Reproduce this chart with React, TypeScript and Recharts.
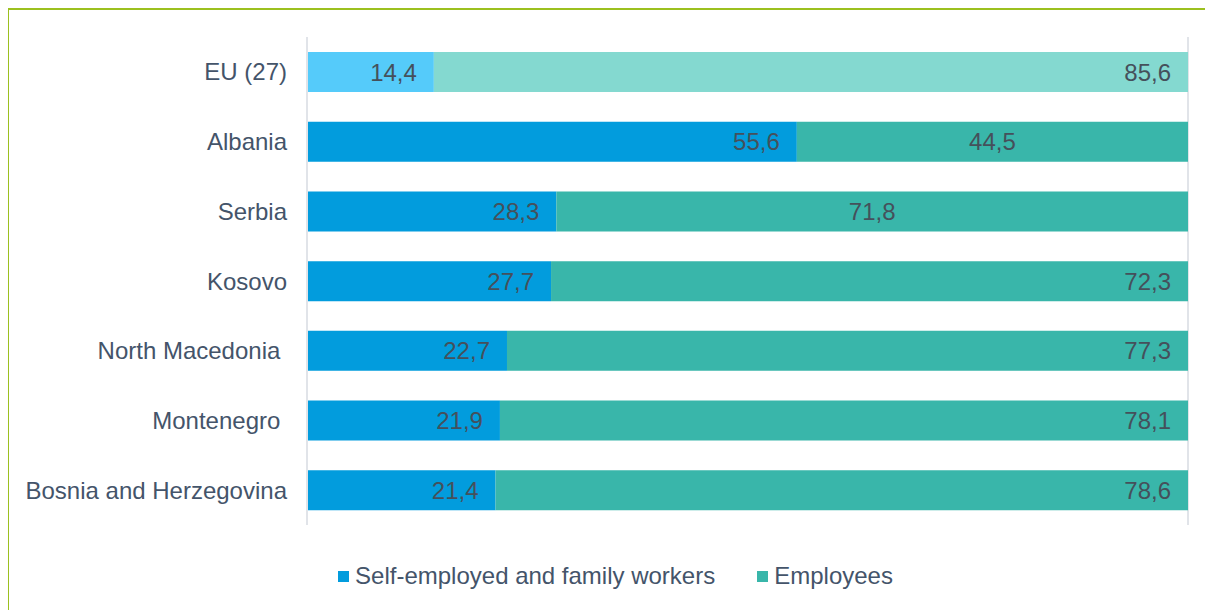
import React from "react"
import { Bar, BarChart, CartesianGrid, Cell, LabelList, Legend, XAxis, YAxis } from "recharts"

const countries = [
  "EU (27)",
  "Albania",
  "Serbia",
  "Kosovo",
  "North Macedonia\u00a0",
  "Montenegro\u00a0",
  "Bosnia and Herzegovina",
]
const selfEmployed = [14.4, 55.6, 28.3, 27.7, 22.7, 21.9, 21.4]
const employees = [85.6, 44.5, 71.8, 72.3, 77.3, 78.1, 78.6]
const seriesNames = ["Self-employed and family workers", "Employees"]
const xTicks = [0, 10, 20, 30, 40, 50, 60, 70, 80, 90, 100]

const data = countries.map((name, i) => ({
  name,
  self: selfEmployed[i],
  emp: employees[i],
}))

const FONT = '"Liberation Sans", Arial, sans-serif'
const TEXT = "#44546A"
const LABEL = "#45505B"
const BLUE = "#029CDD"
const TEAL = "#39B6AA"
const BLUE_EU = "#55CBFA"
const TEAL_EU = "#84D9D0"

// employee labels drawn centred instead of at the bar end
const centredEmp = ["Albania", "Serbia"]

const fmt = (v: number) => v.toFixed(1).replace(".", ",")

const makeLabel = (series: "self" | "emp") => (props: any) => {
  const vb = props.viewBox || props
  const { x, y, width, height } = vb
  const idx = props.index
  const centred = series === "emp" && centredEmp.includes(countries[idx])
  const tx = centred ? x + width / 2 : x + width - 17
  return (
    <text
      x={tx}
      y={y + height / 2}
      textAnchor={centred ? "middle" : "end"}
      dominantBaseline="central"
      fill={LABEL}
      fontSize={24}
      fontFamily={FONT}
    >
      {fmt(Number(props.value))}
    </text>
  )
}

const LegendContent = (props: any) => {
  const items = [...(props.payload || [])].sort(
    (a: any, b: any) => seriesNames.indexOf(a.value) - seriesNames.indexOf(b.value)
  )
  return (
    <div
      style={{
        height: 40,
        display: "flex",
        justifyContent: "center",
        alignItems: "center",
        gap: 42,
        paddingLeft: 35,
        fontFamily: FONT,
        fontSize: 24,
        color: TEXT,
      }}
    >
      {items.map((it: any) => (
        <div key={it.value} style={{ display: "flex", alignItems: "center" }}>
          <span style={{ width: 11, height: 11, background: it.color, marginRight: 6, display: "inline-block" }} />
          <span>{it.value}</span>
        </div>
      ))}
    </div>
  )
}

export default function App() {
  return (
    <div style={{ position: "relative", width: 1205, height: 602 }}>
      <div
        style={{
          position: "absolute",
          left: -1,
          top: 0,
          width: 1206,
          height: 602,
          borderTop: "2px solid #9CC01F",
          borderLeft: "2px solid #9CC01F",
          boxSizing: "border-box",
        }}
      />
      <BarChart
        width={1205}
        height={602}
        data={data}
        layout="vertical"
        margin={{ top: 29, right: 25, left: 0, bottom: 14 }}
        style={{ position: "absolute", left: 0, top: 0 }}
      >
        <CartesianGrid horizontal={false} stroke="#E1E4E9" strokeWidth={2} />
        <XAxis
          type="number"
          domain={[0, 100]}
          ticks={xTicks}
          allowDataOverflow
          tick={false}
          axisLine={false}
          tickLine={false}
          height={31}
        />
        <YAxis
          type="category"
          dataKey="name"
          width={299}
          axisLine={{ stroke: "#E1E4E9", strokeWidth: 2 }}
          tickLine={false}
          tickSize={0}
          tickMargin={20}
          tick={{ fill: TEXT, fontSize: 24, fontFamily: FONT }}
        />
        <Legend verticalAlign="bottom" content={<LegendContent />} />
        <Bar
          dataKey="self"
          name={seriesNames[0]}
          stackId="a"
          fill={BLUE}
          barSize={40}
          isAnimationActive={false}
        >
          {data.map((d, i) => (
            <Cell key={d.name} fill={i === 0 ? BLUE_EU : BLUE} />
          ))}
          <LabelList dataKey="self" content={makeLabel("self")} />
        </Bar>
        <Bar
          dataKey="emp"
          name={seriesNames[1]}
          stackId="a"
          fill={TEAL}
          barSize={40}
          isAnimationActive={false}
        >
          {data.map((d, i) => (
            <Cell key={d.name} fill={i === 0 ? TEAL_EU : TEAL} />
          ))}
          <LabelList dataKey="emp" content={makeLabel("emp")} />
        </Bar>
      </BarChart>
    </div>
  )
}
